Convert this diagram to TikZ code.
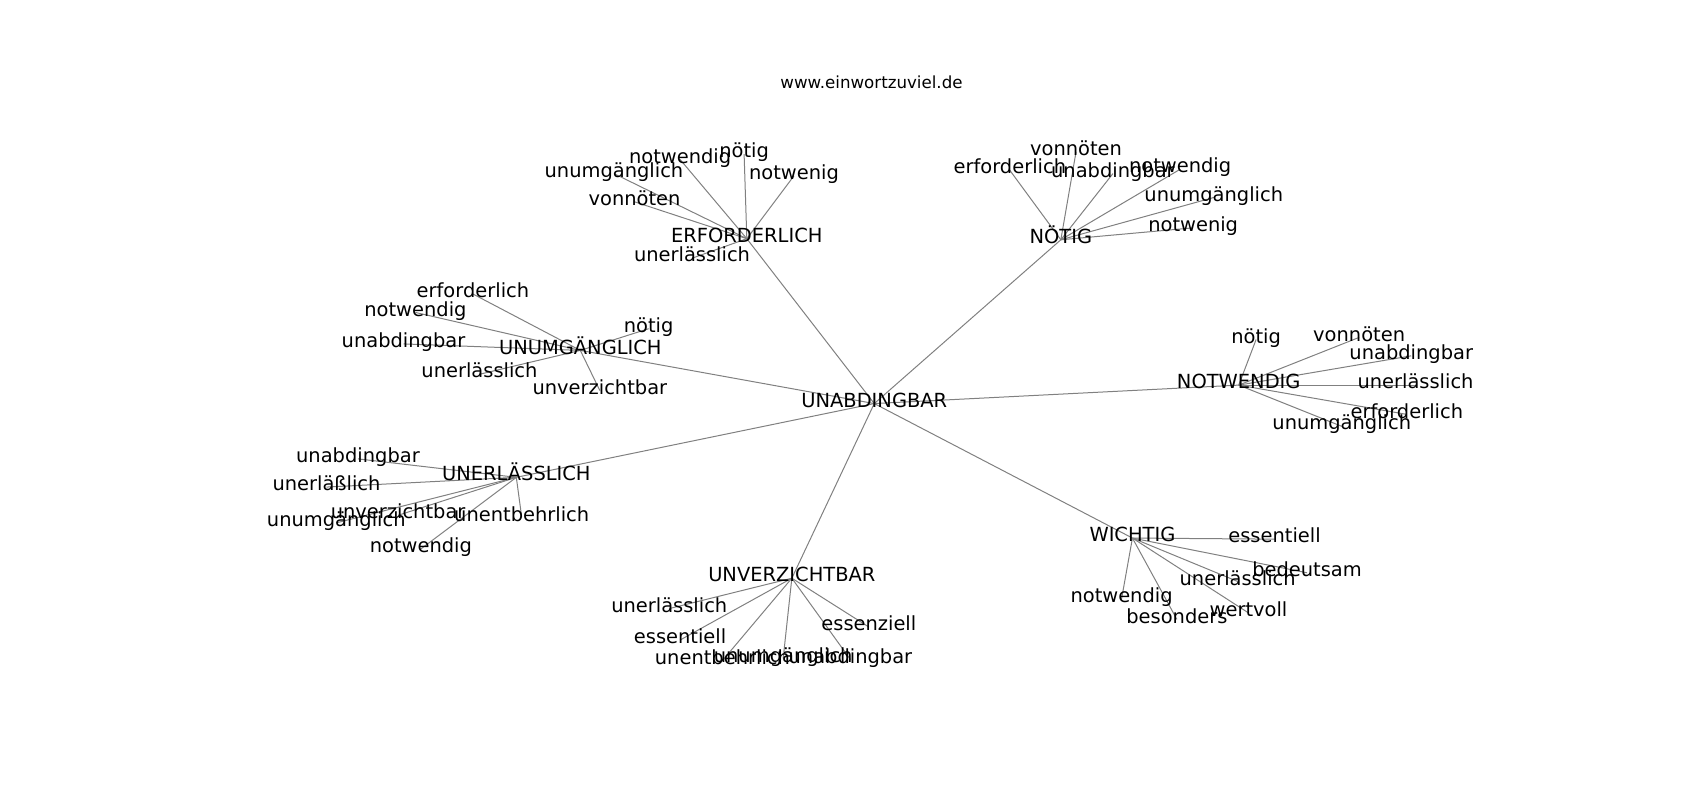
\documentclass[tikz,border=0pt]{standalone}
\usepackage{fontspec}
\setmainfont{DejaVu Sans}
\usetikzlibrary{backgrounds}
\definecolor{edgegray}{RGB}{128,128,128}
\tikzset{
  lbl/.style={inner sep=0pt, text height=0.76em, text depth=0.24em, font=\fontsize{14}{16}\selectfont, anchor=center},
  ttl/.style={inner sep=0pt, text height=0.76em, text depth=0.24em, font=\fontsize{12}{14}\selectfont, anchor=center},
  edge/.style={draw=edgegray, line width=0.72pt},
}
\begin{document}
\begin{tikzpicture}[x=0.72pt,y=-0.72pt]
\path[use as bounding box] (0,-3.3) rectangle (1700,796.7);
\node[ttl] (title) at (871.5,82) {www.einwortzuviel.de};
\begin{scope}[scale=1.0847]
% center and hubs
\node[lbl] (c)  at (806,369) {UNABDINGBAR};
\node[lbl] (e)  at (688.5,217) {ERFORDERLICH};
\node[lbl] (n)  at (978,218) {NÖTIG};
\node[lbl] (u)  at (535,320) {UNUMGÄNGLICH};
\node[lbl] (nw) at (1142,352) {NOTWENDIG};
\node[lbl] (ul) at (476,437) {UNERLÄSSLICH};
\node[lbl] (uv) at (730,530) {UNVERZICHTBAR};
\node[lbl] (w)  at (1044,493) {WICHTIG};
% ERFORDERLICH leaves
\node[lbl] (e1) at (627,144) {notwendig};
\node[lbl] (e2) at (686,139) {nötig};
\node[lbl] (e3) at (732,159) {notwenig};
\node[lbl] (e4) at (566,157) {unumgänglich};
\node[lbl] (e5) at (585,183) {vonnöten};
\node[lbl] (e6) at (638,235) {unerlässlich};
% NÖTIG leaves
\node[lbl] (n1) at (992,137) {vonnöten};
\node[lbl] (n2) at (931,154) {erforderlich};
\node[lbl] (n3) at (1026,157) {unabdingbar};
\node[lbl] (n4) at (1088,153) {notwendig};
\node[lbl] (n5) at (1119,179) {unumgänglich};
\node[lbl] (n6) at (1100,207) {notwenig};
% UNUMGÄNGLICH leaves
\node[lbl] (u1) at (436,268) {erforderlich};
\node[lbl] (u2) at (383,285) {notwendig};
\node[lbl] (u3) at (598,300) {nötig};
\node[lbl] (u4) at (372,314) {unabdingbar};
\node[lbl] (u5) at (442,342) {unerlässlich};
\node[lbl] (u6) at (553,357) {unverzichtbar};
% NOTWENDIG leaves
\node[lbl] (nw1) at (1158,310) {nötig};
\node[lbl] (nw2) at (1253,308) {vonnöten};
\node[lbl] (nw3) at (1301,325) {unabdingbar};
\node[lbl] (nw4) at (1305,352) {unerlässlich};
\node[lbl] (nw5) at (1297,379) {erforderlich};
\node[lbl] (nw6) at (1237,390) {unumgänglich};
% UNERLÄSSLICH leaves
\node[lbl] (ul1) at (330,420) {unabdingbar};
\node[lbl] (ul2) at (301,446) {unerläßlich};
\node[lbl] (ul3) at (367,472) {unverzichtbar};
\node[lbl] (ul4) at (310,479) {unumgänglich};
\node[lbl] (ul5) at (481,474) {unentbehrlich};
\node[lbl] (ul6) at (388,503) {notwendig};
% UNVERZICHTBAR leaves
\node[lbl] (uv1) at (617,558) {unerlässlich};
\node[lbl] (uv2) at (627,587) {essentiell};
\node[lbl] (uv3) at (801,575) {essenziell};
\node[lbl] (uv4) at (666,606) {unentbehrlich};
\node[lbl] (uv5) at (722,604) {unumgänglich};
\node[lbl] (uv6) at (784,605) {unabdingbar};
% WICHTIG leaves
\node[lbl] (w1) at (1175,494) {essentiell};
\node[lbl] (w2) at (1205,525) {bedeutsam};
\node[lbl] (w3) at (1141,533) {unerlässlich};
\node[lbl] (w4) at (1034,549) {notwendig};
\node[lbl] (w5) at (1085,568) {besonders};
\node[lbl] (w6) at (1151,562) {wertvoll};
\end{scope}
\begin{scope}[on background layer]
\foreach \h in {e,n,u,nw,ul,uv,w} {
  \draw[edge] (c.center) -- (\h.center);
  \foreach \k in {1,...,6} {
    \draw[edge] (\h.center) -- (\h\k.center);
  }
}
\end{scope}
\end{tikzpicture}
\end{document}
